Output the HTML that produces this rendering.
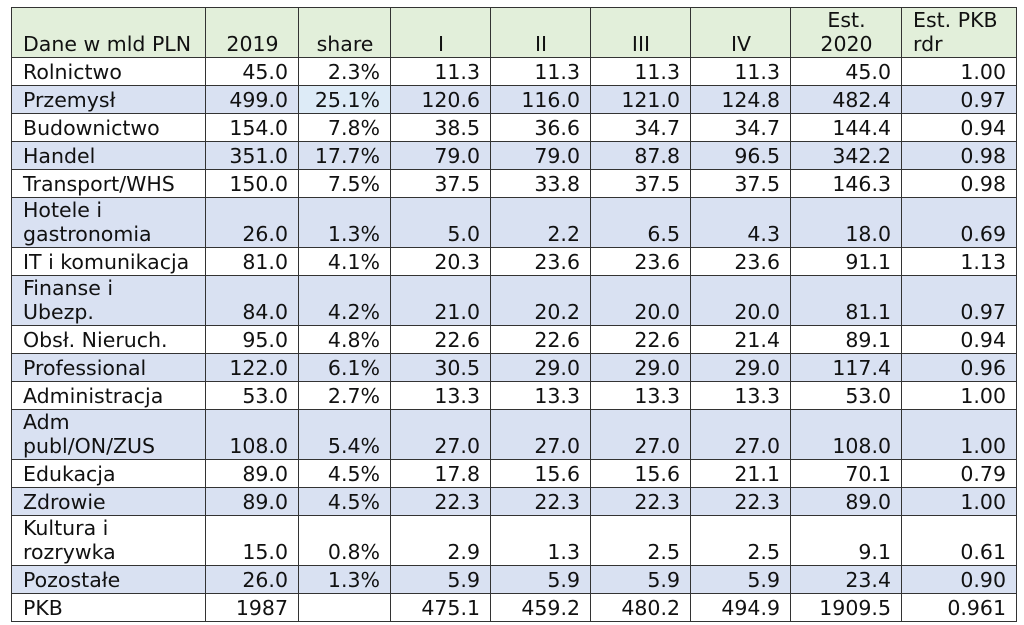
<!DOCTYPE html>
<html><head><meta charset="utf-8"><style>
body{margin:0;background:#fff;width:1024px;height:625px;overflow:hidden}
table{position:absolute;left:11px;top:7px;border-collapse:collapse;table-layout:fixed;font-family:"DejaVu Sans","Liberation Sans",sans-serif;font-size:20.5px;color:#111}
td{border:1px solid #333;padding:0 10px 1px 11px;vertical-align:bottom;line-height:24px;white-space:nowrap;overflow:hidden;text-align:right;box-sizing:border-box}
td:first-child{text-align:left}
tr td{height:28px}
tr.d td{height:50px}
tr.h td{height:50px}
tr.h{background:#e2efda}
tr.h td{text-align:center}
tr.h td:first-child{text-align:left}
tr.h td:last-child{text-align:left}
tr.b{background:#d9e1f2}
.l{background:#ddebf7}
</style></head><body>
<table>
<colgroup><col style="width:194px"><col style="width:93px"><col style="width:92px"><col style="width:100px"><col style="width:100px"><col style="width:100px"><col style="width:100px"><col style="width:111px"><col style="width:115px"></colgroup>
<tr class="h"><td>Dane w mld PLN</td><td>2019</td><td>share</td><td>I</td><td>II</td><td>III</td><td>IV</td><td>Est.<br>2020</td><td>Est. PKB<br>rdr</td></tr>
<tr><td>Rolnictwo</td><td>45.0</td><td>2.3%</td><td>11.3</td><td>11.3</td><td>11.3</td><td>11.3</td><td>45.0</td><td>1.00</td></tr>
<tr class="b"><td>Przemysł</td><td>499.0</td><td class="l">25.1%</td><td>120.6</td><td>116.0</td><td>121.0</td><td>124.8</td><td>482.4</td><td>0.97</td></tr>
<tr><td>Budownictwo</td><td>154.0</td><td>7.8%</td><td>38.5</td><td>36.6</td><td>34.7</td><td>34.7</td><td>144.4</td><td>0.94</td></tr>
<tr class="b"><td>Handel</td><td>351.0</td><td>17.7%</td><td>79.0</td><td>79.0</td><td>87.8</td><td>96.5</td><td>342.2</td><td>0.98</td></tr>
<tr><td>Transport/WHS</td><td>150.0</td><td>7.5%</td><td>37.5</td><td>33.8</td><td>37.5</td><td>37.5</td><td>146.3</td><td>0.98</td></tr>
<tr class="b d"><td>Hotele i<br>gastronomia</td><td>26.0</td><td>1.3%</td><td>5.0</td><td>2.2</td><td>6.5</td><td>4.3</td><td>18.0</td><td>0.69</td></tr>
<tr><td>IT i komunikacja</td><td>81.0</td><td>4.1%</td><td>20.3</td><td>23.6</td><td>23.6</td><td>23.6</td><td>91.1</td><td>1.13</td></tr>
<tr class="b d"><td>Finanse i<br>Ubezp.</td><td>84.0</td><td>4.2%</td><td>21.0</td><td>20.2</td><td>20.0</td><td>20.0</td><td>81.1</td><td>0.97</td></tr>
<tr><td>Obsł. Nieruch.</td><td>95.0</td><td>4.8%</td><td>22.6</td><td>22.6</td><td>22.6</td><td>21.4</td><td>89.1</td><td>0.94</td></tr>
<tr class="b"><td>Professional</td><td>122.0</td><td>6.1%</td><td>30.5</td><td>29.0</td><td>29.0</td><td>29.0</td><td>117.4</td><td>0.96</td></tr>
<tr><td>Administracja</td><td>53.0</td><td>2.7%</td><td>13.3</td><td>13.3</td><td>13.3</td><td>13.3</td><td>53.0</td><td>1.00</td></tr>
<tr class="b d"><td>Adm<br>publ/ON/ZUS</td><td>108.0</td><td>5.4%</td><td>27.0</td><td>27.0</td><td>27.0</td><td>27.0</td><td>108.0</td><td>1.00</td></tr>
<tr><td>Edukacja</td><td>89.0</td><td>4.5%</td><td>17.8</td><td>15.6</td><td>15.6</td><td>21.1</td><td>70.1</td><td>0.79</td></tr>
<tr class="b"><td>Zdrowie</td><td>89.0</td><td>4.5%</td><td>22.3</td><td>22.3</td><td>22.3</td><td>22.3</td><td>89.0</td><td>1.00</td></tr>
<tr class="d"><td>Kultura i<br>rozrywka</td><td>15.0</td><td>0.8%</td><td>2.9</td><td>1.3</td><td>2.5</td><td>2.5</td><td>9.1</td><td>0.61</td></tr>
<tr class="b"><td>Pozostałe</td><td>26.0</td><td>1.3%</td><td>5.9</td><td>5.9</td><td>5.9</td><td>5.9</td><td>23.4</td><td>0.90</td></tr>
<tr><td style="height:27px">PKB</td><td>1987</td><td></td><td>475.1</td><td>459.2</td><td>480.2</td><td>494.9</td><td>1909.5</td><td>0.961</td></tr>
</table>
</body></html>
